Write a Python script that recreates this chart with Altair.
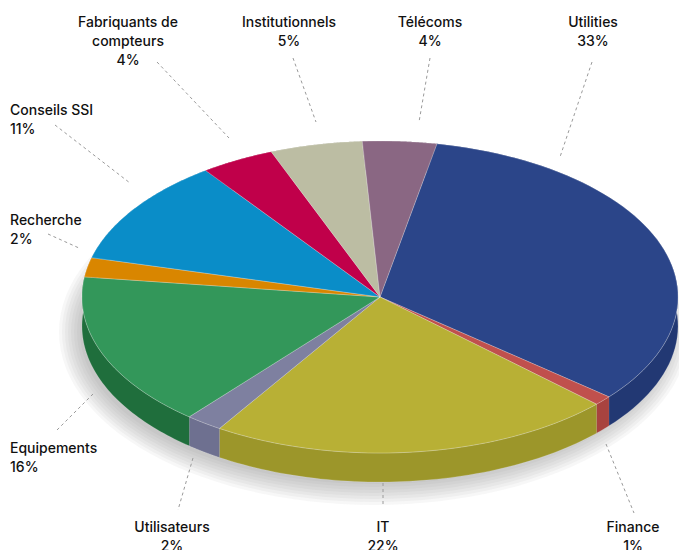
import altair as alt
import pandas as pd

# ---------------- data ----------------
categories = ["Utilities", "Finance", "IT", "Utilisateurs", "Equipements",
              "Recherche", "Conseils SSI", "Fabriquants de compteurs",
              "Institutionnels", "Télécoms"]
values = [33, 1, 22, 2, 16, 2, 11, 4, 5, 4]
label_names = ["Utilities", "Finance", "IT", "Utilisateurs", "Equipements",
               "Recherche", "Conseils SSI", "Fabriquants de\ncompteurs",
               "Institutionnels", "Télécoms"]

# ---------------- styles ----------------
top_colors = ["#2B4589", "#C0504D", "#B8B035", "#7E80A0", "#33975A",
              "#D98600", "#0A8DC8", "#C0004A", "#BCBDA3", "#8A6783"]
side_colors = ["#223873", "#A8433F", "#9C962A", "#6E7090", "#1F6E3C",
               "#B86F00", "#0878AA", "#A0003E", "#A2A38A", "#765870"]

# ---------------- layout (pixels) ----------------
W, H = 679, 550
CX, CY, RX, RY, DEPTH = 380, 297, 298, 156, 29
START_DEG = 11
N = 60

label_x = [593, 633, 383, 172, 10, 10, 10, 128, 289, 430]
label_y = [16, 521, 521, 521, 442, 214, 104, 16, 16, 16]
label_align = ["center", "center", "center", "center", "left",
               "left", "left", "center", "center", "center"]
lead_x1 = [592, 606, 383, 193, 57, 48, 55, 157, 293, 430]
lead_y1 = [62, 444, 483, 458, 430, 234, 125, 62, 58, 58]
lead_x2 = [560, 634, 383, 178, 95, 79, 130, 229, 316, 419]
lead_y2 = [157, 513, 507, 510, 392, 248, 183, 138, 122, 122]

df = pd.DataFrame({
    "category": categories,
    "value": values,
    "order": list(range(len(categories))),
})

labels = pd.DataFrame({
    "category": categories,
    "text": [f"{n}\n{v}%" for n, v in zip(label_names, values)],
    "lx": label_x, "ly": label_y, "align": label_align,
    "x1": lead_x1, "y1": lead_y1, "x2": lead_x2, "y2": lead_y2,
})

xs = alt.Scale(domain=[0, W], nice=False, zero=False)
ys = alt.Scale(domain=[0, H], nice=False, zero=False, reverse=True)


def with_angles(chart):
    return chart.transform_window(
        cum="sum(value)", sort=[alt.SortField("order")], frame=[None, 0]
    ).transform_calculate(
        a0=f"({START_DEG} + (datum.cum - datum.value) * 3.6) * PI / 180",
        a1=f"({START_DEG} + datum.cum * 3.6) * PI / 180",
    )


# ---------------- shadow ----------------
shadow_layers = []
for k in range(8):
    shadow_layers.append(
        alt.Chart(alt.sequence(0, N * 2 + 1, as_="s")).transform_calculate(
            ang=f"datum.s / {N * 2} * 2 * PI",
            px=f"{CX - 6} + {RX - 4 + k * 3} * sin(datum.ang)",
            py=f"{CY + DEPTH + 6} - {RY - 4 + k * 3} * cos(datum.ang)",
        ).mark_line(filled=True, color="#707070", opacity=0.055, strokeWidth=0).encode(
            x=alt.X("px:Q", scale=xs, axis=None),
            y=alt.Y("py:Q", scale=ys, axis=None),
            order="s:Q",
        )
    )

# ---------------- walls ----------------
walls = with_angles(alt.Chart(df)).transform_calculate(
    steps=f"sequence(0, {2 * N + 2})"
).transform_flatten(["steps"]).transform_calculate(
    k=f"datum.steps <= {N} ? datum.steps : {2 * N + 1} - datum.steps",
    dy=f"datum.steps <= {N} ? 0 : {DEPTH}",
).transform_calculate(
    ang=f"datum.a0 + (datum.a1 - datum.a0) * datum.k / {N}",
).transform_calculate(
    px=f"{CX} + {RX} * sin(datum.ang)",
    py=f"{CY} - {RY} * cos(datum.ang) + datum.dy",
).mark_line(filled=True, stroke="white", strokeOpacity=0.25, strokeWidth=0.6).encode(
    x=alt.X("px:Q", scale=xs, axis=None),
    y=alt.Y("py:Q", scale=ys, axis=None),
    fill=alt.Fill("category:N", scale=alt.Scale(domain=categories, range=side_colors), legend=None),
    order="steps:Q",
)

# ---------------- tops ----------------
tops = with_angles(alt.Chart(df)).transform_calculate(
    steps=f"sequence(-1, {N + 2})"
).transform_flatten(["steps"]).transform_calculate(
    ang=f"datum.a0 + (datum.a1 - datum.a0) * clamp(datum.steps, 0, {N}) / {N}",
).transform_calculate(
    px=f"(datum.steps < 0 || datum.steps > {N}) ? {CX} : {CX} + {RX} * sin(datum.ang)",
    py=f"(datum.steps < 0 || datum.steps > {N}) ? {CY} : {CY} - {RY} * cos(datum.ang)",
).mark_line(filled=True, stroke="white", strokeOpacity=0.35, strokeWidth=0.7).encode(
    x=alt.X("px:Q", scale=xs, axis=None),
    y=alt.Y("py:Q", scale=ys, axis=None),
    fill=alt.Fill("category:N", scale=alt.Scale(domain=categories, range=top_colors), legend=None),
    order="steps:Q",
)

pie = alt.layer(walls, tops).resolve_scale(fill="independent")

# ---------------- leaders & labels ----------------
leaders = alt.Chart(labels).mark_rule(color="#9a9a9a", strokeDash=[3, 3], strokeWidth=1).encode(
    x=alt.X("x1:Q", scale=xs, axis=None),
    y=alt.Y("y1:Q", scale=ys, axis=None),
    x2="x2:Q",
    y2="y2:Q",
)

text_common = dict(font="Inter", fontSize=14, fontWeight=500, color="#111111",
                   lineBreak="\n", lineHeight=19, baseline="top")
text_center = alt.Chart(labels).transform_filter("datum.align == 'center'").mark_text(
    align="center", **text_common
).encode(
    x=alt.X("lx:Q", scale=xs, axis=None),
    y=alt.Y("ly:Q", scale=ys, axis=None),
    text="text:N",
)
text_left = alt.Chart(labels).transform_filter("datum.align == 'left'").mark_text(
    align="left", **text_common
).encode(
    x=alt.X("lx:Q", scale=xs, axis=None),
    y=alt.Y("ly:Q", scale=ys, axis=None),
    text="text:N",
)

chart = alt.layer(
    *shadow_layers, pie, leaders, text_center, text_left
).properties(
    width=W, height=H, padding=0, autosize="none"
).configure_view(stroke=None)

chart.save("out.html", embed_options={"renderer": "svg", "actions": False})
